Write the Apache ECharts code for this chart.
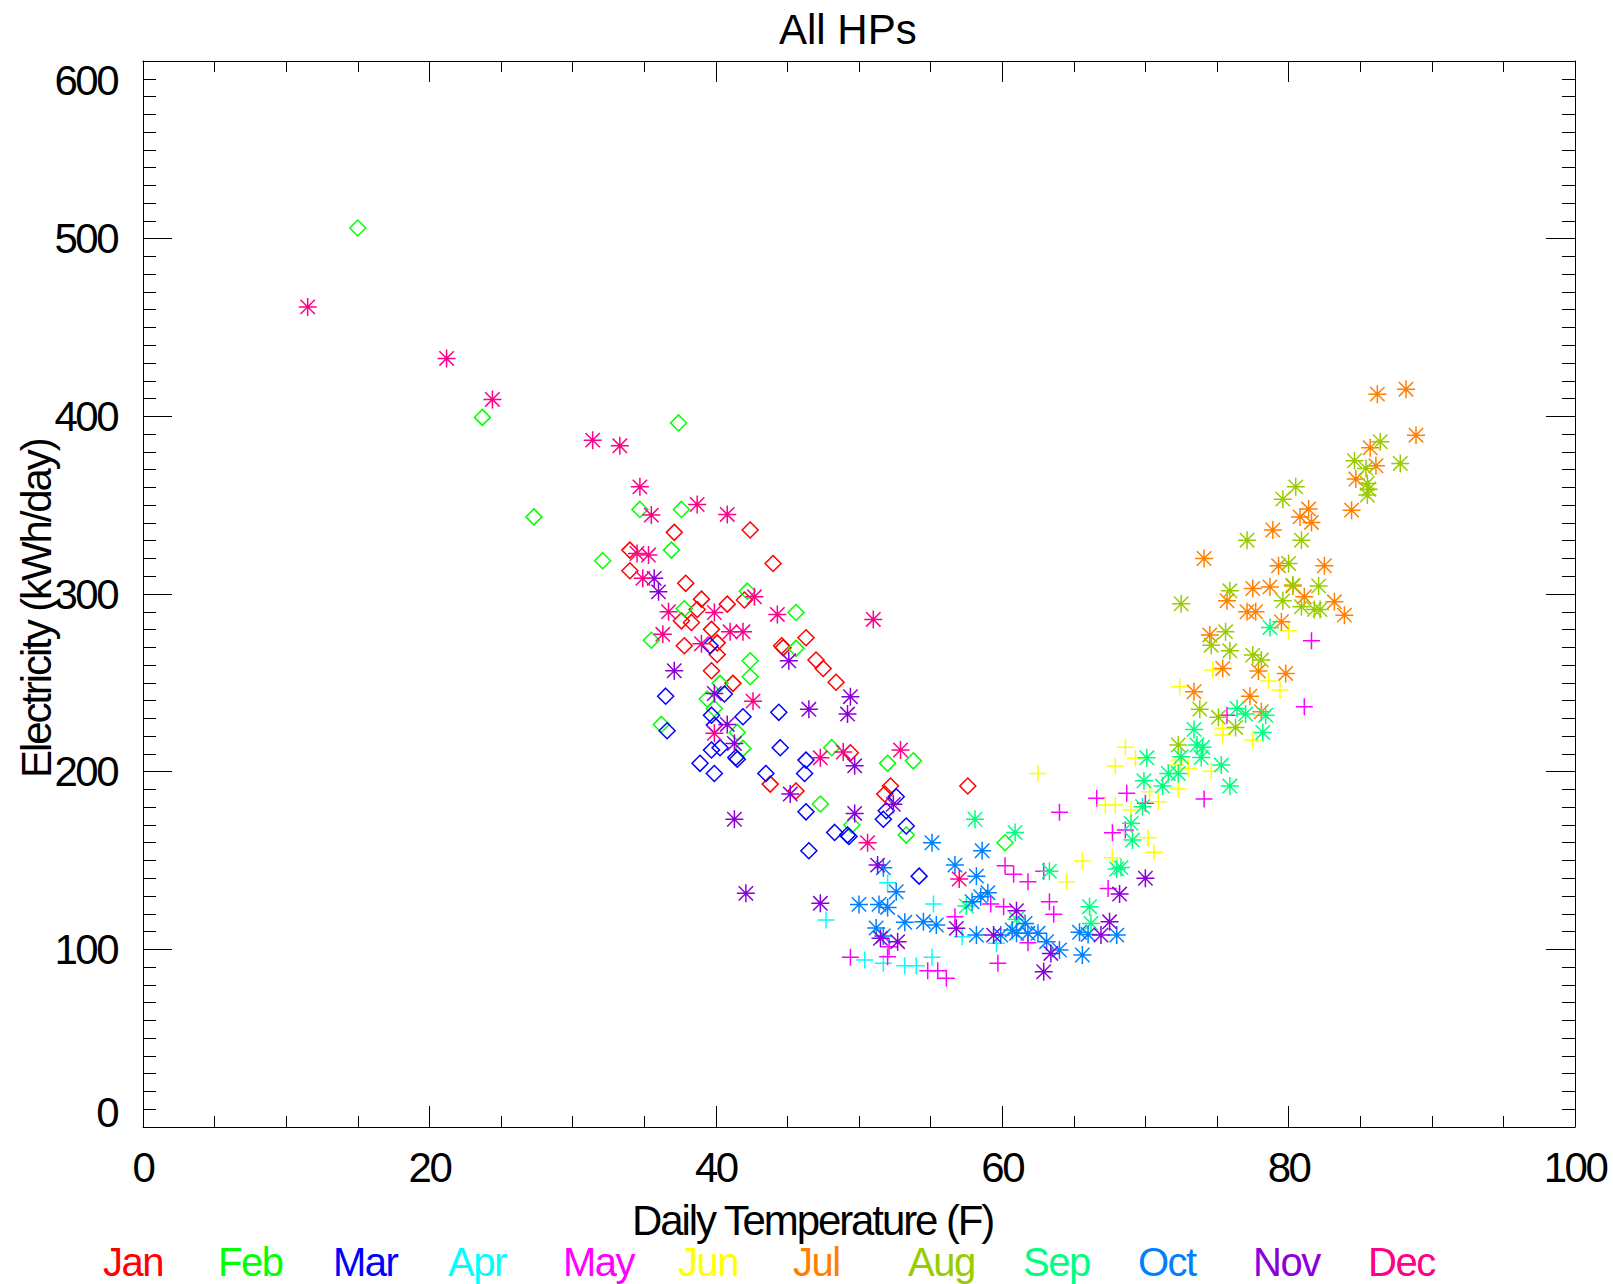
<!DOCTYPE html>
<html>
<head>
<meta charset="utf-8">
<title>All HPs</title>
<script src="https://cdn.jsdelivr.net/npm/echarts@6/dist/echarts.min.js"></script>
<style>
  html, body { margin: 0; padding: 0; background: #ffffff; }
  #chart { width: 1613px; height: 1284px; }
  /* condensed lettering for tick labels and axis names */
  #chart text { letter-spacing: -2.5px; }
  #chart text[style*="Helvetica"] { letter-spacing: -2.1px; }
  #chart text[style*="Arial"] { letter-spacing: -1.5px; }
  #chart text[style*="Arimo"] { letter-spacing: 0px; }
</style>
</head>
<body>
<div id="chart"></div>
<script>
// ---- chart data: [daily temperature (F), electricity (kWh/day)] ----
const months = ['Jan', 'Feb', 'Mar', 'Apr', 'May', 'Jun', 'Jul', 'Aug', 'Sep', 'Oct', 'Nov', 'Dec'];
const monthColors = ['#ff0000', '#00ff00', '#0000ff', '#00ffff', '#ff00ff', '#ffff00',
                     '#ff8000', '#99cc00', '#00ff80', '#0080ff', '#8c00d8', '#ff0088'];
const monthMarkers = ['diamond', 'diamond', 'diamond', 'plus', 'plus', 'plus',
                      'asterisk', 'asterisk', 'asterisk', 'asterisk', 'asterisk', 'asterisk'];
const xTickValues = [0, 20, 40, 60, 80, 100];
const yTickValues = [0, 100, 200, 300, 400, 500, 600];

const janData = [[34.0,324.7],[34.0,313.1],[37.1,334.7],[42.4,336],[44.0,317.2],[37.9,306],[39.0,297.1],[40.8,294.3],[42.0,296.6],[38.7,291.3],[37.6,284.9],[38.3,284],[39.7,280.1],[37.8,270.9],[40.1,272.5],[40.1,266],[44.6,270.9],[44.7,269.8],[46.3,275.4],[47.0,262.8],[47.5,258.1],[48.4,250.3],[39.7,256.8],[41.2,249.7],[43.8,193],[45.6,189.1],[49.4,210.6],[57.6,191.9],[52.2,191.9],[51.8,187.4]];
const febData = [[15.0,506],[23.7,399.4],[27.3,343.4],[32.1,318.7],[37.4,396.3],[34.7,347.6],[37.6,347.6],[36.9,324.7],[42.2,301.6],[37.8,291.7],[45.6,289.6],[35.5,274],[45.6,269.4],[42.4,262.4],[42.4,253.4],[40.3,249.7],[39.4,240.9],[39.9,235.6],[36.2,226.6],[41.5,222.1],[41.9,213.1],[48.1,213.5],[52.0,204.7],[53.8,206.1],[47.3,181.8],[49.5,170],[53.3,164.3],[60.2,160]];
const marData = [[39.6,270.9],[40.6,243.7],[36.5,242.5],[44.4,233.4],[39.7,231.8],[41.9,230.9],[36.6,223],[39.9,226.2],[39.7,212.2],[40.3,213.5],[41.4,208],[41.5,207],[38.9,204.7],[39.9,199],[44.5,213.5],[46.3,206.5],[46.2,199],[43.5,199],[46.3,177.4],[46.5,155.5],[52.6,185.9],[51.9,178],[51.7,173.2],[48.3,165.8],[49.2,164.3],[49.3,163.5],[53.3,169.4],[54.2,141.2]];
const aprData = [[47.7,116.5],[52.0,137.5],[55.2,125.5],[57.2,107.1],[59.6,103.4],[50.4,94],[51.7,92.1],[53.2,90.8],[54.0,90.8],[55.1,95.5]];
const mayData = [[49.4,95.5],[52.0,95.8],[52.1,101.5],[54.8,88],[55.5,88],[56.1,83.7],[59.7,92.1],[56.7,118.3],[59.2,125.5],[60.1,124],[60.2,147],[60.8,142.2],[61.8,138],[62.9,144],[61.8,103.7],[63.3,126.8],[63.6,119.7],[64.0,177.1],[66.6,185],[68.7,187.8],[70.0,182.2],[67.7,165.6],[68.6,167.1],[67.4,134.3],[74.1,184.6],[75.7,231.8],[81.1,236.5],[81.6,273.7]];
const junData = [[62.5,199],[65.6,149.7],[64.5,138],[67.2,181.2],[67.9,181.2],[67.7,151.5],[68.6,213.7],[69.3,207.5],[67.9,203.2],[69.0,178.4],[70.3,188.7],[70.9,183],[70.2,162.8],[70.6,154.6],[72.1,203.7],[72.4,206.5],[73.0,201.9],[72.3,190.2],[74.6,200.3],[72.4,247.8],[74.7,257.2],[75.4,224.4],[75.4,220.6],[77.5,217.8],[78.6,251],[79.4,245.9],[80.0,279.3]];
const julData = [[75.4,258.1],[77.9,256.6],[79.8,255.3],[73.4,245],[77.3,242.5],[78.1,233.7],[86.2,412.5],[88.2,415.3],[88.9,389.4],[85.7,382.3],[86.1,372.2],[84.7,364.7],[84.4,347.2],[81.4,347.8],[80.8,343.4],[81.6,340.3],[78.9,336],[74.1,320],[79.3,315.9],[82.5,315.9],[77.5,303.1],[78.7,304],[80.3,304.5],[75.7,296.2],[81.1,298.4],[83.2,295.6],[83.9,288.1],[77.1,290],[77.7,290],[79.5,284.4],[74.5,276.9]];
const augData = [[74.6,271.2],[75.9,268],[77.5,265.6],[78.1,262.8],[73.8,235.2],[75.1,230.6],[76.3,224.9],[72.3,215],[86.4,385.7],[84.6,375],[85.4,370.7],[87.8,373.5],[85.5,362.2],[85.6,359],[85.5,355.7],[80.5,360.3],[79.6,353.4],[77.1,330.3],[80.9,330.3],[80.0,317.2],[75.9,301.8],[80.3,305],[82.1,304.5],[79.6,296.2],[80.9,292.8],[81.8,291.3],[82.2,291.3],[75.6,278.7],[72.5,294.5]];
const sepData = [[58.1,173.2],[60.9,165.8],[63.3,144],[57.5,124.4],[61.0,116.9],[66.1,124],[66.2,114.6],[76.4,235.6],[77.0,232.4],[78.4,231.8],[78.2,222.1],[73.4,223.8],[73.6,215],[74.0,213.7],[72.5,208.4],[73.9,208],[70.1,207.8],[75.3,203.7],[72.3,199],[71.6,199],[69.9,194.9],[71.2,191.9],[75.9,191.9],[69.8,180.3],[69.0,170.9],[69.1,161.5],[68.0,145.2],[68.3,146],[78.7,281.2]];
const octData = [[55.1,160],[58.6,155.5],[51.7,145.9],[52.6,132.4],[56.7,147.4],[58.2,141.2],[50.0,125.3],[51.4,125.3],[52.0,123.6],[53.2,115.2],[54.5,115.5],[55.4,113.7],[57.9,126.8],[58.5,129.6],[59.0,131.9],[58.2,108],[59.9,108],[60.7,110.9],[61.0,109],[61.6,114.6],[61.8,109],[62.5,109],[63.1,104.3],[64.0,99.6],[65.4,109.6],[66.0,108.4],[65.6,96.8],[68.0,108],[51.7,107.5],[51.2,112]];
const novData = [[35.7,308.8],[36.0,301.2],[37.1,256.8],[39.9,244],[45.1,262.4],[46.5,235.1],[40.8,226.6],[41.3,215.9],[45.2,187.4],[41.3,173.2],[42.1,131.5],[47.3,125.9],[49.2,232.4],[49.4,242.2],[49.7,203.3],[52.4,181.6],[49.7,176.5],[51.3,147.4],[56.8,111.8],[61.0,121.7],[59.4,108],[63.4,97.7],[62.9,87.4],[51.5,106.2],[52.7,104.3],[70.0,140],[68.2,131.1],[67.5,115.5],[66.9,108]];
const decData = [[11.5,461.6],[21.2,432.6],[24.4,409.5],[31.4,386.6],[33.3,383.4],[34.7,360.3],[35.5,344.4],[38.7,350.4],[40.8,344.8],[34.5,322.8],[35.3,321.9],[34.9,308.8],[36.7,290],[39.9,289.6],[42.7,298.4],[44.3,288.5],[36.3,277.3],[41.0,278.7],[41.9,278.7],[39.0,272],[42.6,239.7],[39.9,221.6],[47.3,207.8],[48.9,211],[52.9,212.2],[50.6,160],[57.0,139.6],[51.0,285.7]];

const monthData = [janData, febData, marData, aprData, mayData, junData,
                   julData, augData, sepData, octData, novData, decData];

// ---- marker shapes ----
const markerShapes = {
  diamond:  { symbol: 'diamond', size: 16 },
  plus:     { symbol: 'path://M0,-10L0,10M-10,0L10,0', size: 17 },
  asterisk: { symbol: 'path://M0,-10L0,10M-10,0L10,0M-8,-8L8,8M-8,8L8,-8', size: 18 }
};

// font stacks (the leading family name also selects the letter spacing in the stylesheet)
const FONT = '"Liberation Sans", sans-serif';
const TITLE_FONT = 'Arimo, "Liberation Sans", sans-serif';
const NAME_FONT = 'Helvetica, "Liberation Sans", sans-serif';
const LEGEND_FONT = 'Arial, "Liberation Sans", sans-serif';

const series = months.map((name, i) => {
  const shape = markerShapes[monthMarkers[i]];
  return {
    type: 'scatter',
    name: name,
    data: monthData[i],
    xAxisIndex: 0,
    yAxisIndex: 0,
    symbol: shape.symbol,
    symbolSize: shape.size,
    itemStyle: { color: 'rgba(0,0,0,0)', borderColor: monthColors[i], borderWidth: 1.5, opacity: 1 },
    emphasis: { disabled: true },
    z: 2 + i
  };
});

const tickStyle = { color: '#000', width: 1 };

function xAxisDef(position, showLabels) {
  return {
    type: 'value',
    position: position,
    min: xTickValues[0],
    max: xTickValues[xTickValues.length - 1],
    interval: xTickValues[1] - xTickValues[0],
    axisLine: { show: true, onZero: false, lineStyle: tickStyle },
    axisTick: { show: true, inside: true, length: 21, lineStyle: tickStyle },
    minorTick: { show: true, splitNumber: 4, length: 11, lineStyle: tickStyle },
    splitLine: { show: false },
    axisLabel: {
      show: showLabels,
      margin: 19,
      color: '#000',
      fontSize: 42,
      fontFamily: FONT
    }
  };
}

const yMin = yTickValues[0];
const yMax = yTickValues[yTickValues.length - 1];

function yAxisDef(position, showLabels) {
  return {
    type: 'value',
    position: position,
    min: yMin,
    max: yMax,
    interval: yTickValues[1] - yTickValues[0],
    axisLine: { show: true, onZero: false, lineStyle: tickStyle },
    axisTick: { show: true, inside: true, length: 29, lineStyle: tickStyle },
    minorTick: { show: true, splitNumber: 10, length: 13, lineStyle: tickStyle },
    splitLine: { show: false },
    axisLabel: {
      show: showLabels,
      margin: 26,
      color: '#000',
      fontSize: 42,
      fontFamily: FONT,
      // end labels are kept inside the frame
      verticalAlignMinLabel: 'bottom',
      verticalAlignMaxLabel: 'top',
      formatter: v => v === yMin ? '{lo|' + v + '}' : (v === yMax ? '{hi|' + v + '}' : String(v)),
      rich: {
        lo: { fontSize: 42, fontFamily: FONT, color: '#000', lineHeight: 30 },
        hi: { fontSize: 42, fontFamily: FONT, color: '#000', lineHeight: 38 }
      }
    }
  };
}

// one fixed-pitch legend entry per month, coloured text only
const legends = months.map((m, i) => ({
  left: 97 + i * 115,
  top: 1242,
  orient: 'horizontal',
  padding: 0,
  itemGap: 0,
  itemWidth: 0,
  itemHeight: 0,
  icon: 'rect',
  itemStyle: { opacity: 0 },
  selectedMode: false,
  textStyle: { fontSize: 40, fontFamily: LEGEND_FONT },
  data: [{ name: m, textStyle: { color: monthColors[i] } }]
}));

const chart = echarts.init(document.getElementById('chart'), null, { renderer: 'svg' });

chart.setOption({
  animation: false,
  backgroundColor: '#ffffff',
  grid: { left: 143, top: 61, width: 1438, height: 1066, containLabel: false },
  xAxis: [xAxisDef('bottom', true), xAxisDef('top', false)],
  yAxis: [yAxisDef('left', true), yAxisDef('right', false)],
  legend: legends,
  graphic: [
    {
      type: 'text',
      x: 779, y: 29,
      style: { text: 'All HPs', fill: '#000', font: '42px ' + TITLE_FONT, align: 'left', verticalAlign: 'middle' }
    },
    {
      type: 'text',
      x: 632, y: 1220,
      style: { text: 'Daily Temperature (F)', fill: '#000', font: '42px ' + NAME_FONT, align: 'left', verticalAlign: 'middle' }
    },
    {
      type: 'text',
      x: 36, y: 778,
      rotation: Math.PI / 2,
      style: { text: 'Electricity (kWh/day)', fill: '#000', font: '42px ' + NAME_FONT, align: 'left', verticalAlign: 'middle' }
    }
  ],
  series: series
});
</script>
</body>
</html>
